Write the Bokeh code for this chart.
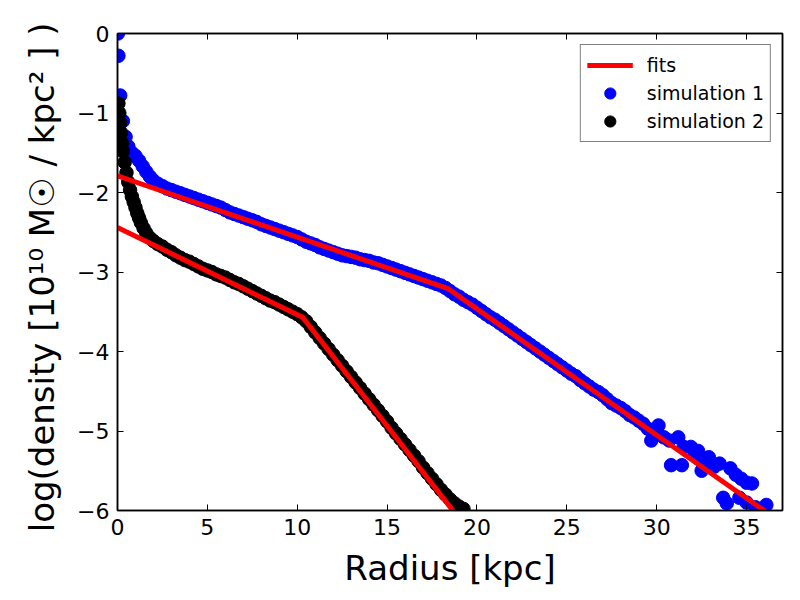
from bokeh.plotting import figure
from bokeh.models import (ColumnDataSource, FixedTicker, LinearAxis, Range1d,
                          Legend, LegendItem, CustomJSTickFormatter)
from bokeh.embed import file_html
from bokeh.resources import INLINE

# ---- surface density profiles (radius in kpc, log10 density) ----
sim1_r = [0.02, 0.05, 0.15, 0.3, 0.45, 0.6, 0.8, 1.0, 1.2, 1.4, 1.6, 1.8, 2.0,
          2.25, 2.5, 2.75, 3.0, 3.25, 3.5, 3.75, 4.0, 4.25, 4.5, 4.75, 5.0,
          5.25, 5.5, 5.75, 6.0, 6.25, 6.5, 6.75, 7.0, 7.25, 7.5, 7.75, 8.0,
          8.25, 8.5, 8.75, 9.0, 9.25, 9.5, 9.75, 10.0, 10.25, 10.5, 10.75,
          11.0, 11.25, 11.5, 11.75, 12.0, 12.25, 12.5, 12.75, 13.0, 13.25,
          13.5, 13.75, 14.0, 14.25, 14.5, 14.75, 15.0, 15.25, 15.5, 15.75,
          16.0, 16.25, 16.5, 16.75, 17.0, 17.25, 17.5, 17.75, 18.0, 18.25,
          18.5, 18.75, 19.0, 19.25, 19.5, 19.75, 20.0, 20.25, 20.5, 20.75,
          21.0, 21.25, 21.5, 21.75, 22.0, 22.25, 22.5, 22.75, 23.0, 23.25,
          23.5, 23.75, 24.0, 24.25, 24.5, 24.75, 25.0, 25.25, 25.5, 25.75,
          26.0, 26.25, 26.5, 26.75, 27.0, 27.25, 27.5, 27.75, 28.0, 28.25,
          28.5, 28.75, 29.0, 29.25, 29.5, 29.75, 30.0, 30.1, 29.7, 30.4, 30.7,
          31.2, 30.8, 31.4, 31.5, 31.9, 32.1, 32.3, 32.6, 32.9, 32.5, 33.2,
          33.5, 34.1, 34.4, 34.7, 35.0, 35.3, 33.7, 33.9, 34.6, 35.0, 35.5,
          36.1, 35.7]
sim1_logrho = [0.0, -0.28, -0.78, -1.1, -1.3, -1.42, -1.5, -1.54, -1.6, -1.67,
               -1.74, -1.8, -1.85, -1.89, -1.92, -1.95, -1.97, -1.99, -2.01,
               -2.03, -2.05, -2.07, -2.09, -2.11, -2.13, -2.15, -2.17, -2.19,
               -2.22, -2.25, -2.27, -2.29, -2.31, -2.33, -2.35, -2.37, -2.40,
               -2.42, -2.44, -2.46, -2.48, -2.50, -2.52, -2.54, -2.56, -2.59,
               -2.62, -2.64, -2.66, -2.69, -2.71, -2.73, -2.75, -2.77, -2.79,
               -2.80, -2.81, -2.82, -2.84, -2.85, -2.86, -2.88, -2.89, -2.91,
               -2.93, -2.95, -2.97, -2.99, -3.01, -3.03, -3.05, -3.07, -3.09,
               -3.11, -3.13, -3.15, -3.17, -3.20, -3.24, -3.28, -3.31, -3.35,
               -3.38, -3.41, -3.45, -3.49, -3.53, -3.57, -3.60, -3.64, -3.68,
               -3.72, -3.76, -3.80, -3.84, -3.88, -3.92, -3.96, -4.00, -4.04,
               -4.08, -4.12, -4.16, -4.20, -4.24, -4.28, -4.31, -4.36, -4.40,
               -4.44, -4.48, -4.51, -4.55, -4.60, -4.65, -4.68, -4.71, -4.75,
               -4.80, -4.83, -4.87, -4.91, -4.97, -5.01, -4.99, -4.93, -5.12,
               -5.08, -5.12, -5.08, -5.43, -5.43, -5.20, -5.20, -5.30, -5.25,
               -5.37, -5.33, -5.50, -5.45, -5.41, -5.47, -5.55, -5.60, -5.65,
               -5.66, -5.84, -5.91, -5.84, -5.90, -5.96, -5.93, -6.0]

sim2_r = [0.05, 0.1, 0.15, 0.2, 0.25, 0.3, 0.4, 0.5, 0.6, 0.7, 0.8, 0.9, 1.0,
          1.1, 1.2, 1.3, 1.45, 1.6, 1.8, 2.0, 2.25, 2.5, 2.75, 3.0, 3.25, 3.5,
          3.75, 4.0, 4.25, 4.5, 4.75, 5.0, 5.25, 5.5, 5.75, 6.0, 6.25, 6.5,
          6.75, 7.0, 7.25, 7.5, 7.75, 8.0, 8.25, 8.5, 8.75, 9.0, 9.25, 9.5,
          9.75, 10.0, 10.25, 10.5, 10.75, 11.0, 11.25, 11.5, 11.75, 12.0,
          12.25, 12.5, 12.75, 13.0, 13.25, 13.5, 13.75, 14.0, 14.25, 14.5,
          14.75, 15.0, 15.25, 15.5, 15.75, 16.0, 16.25, 16.5, 16.75, 17.0,
          17.25, 17.5, 17.75, 18.0, 18.25, 18.5, 18.75, 19.0, 19.25]
sim2_logrho = [-0.88, -1.0, -1.12, -1.25, -1.38, -1.48, -1.62, -1.75, -1.87,
               -1.97, -2.05, -2.12, -2.19, -2.26, -2.32, -2.38, -2.45, -2.51,
               -2.57, -2.61, -2.65, -2.68, -2.72, -2.75, -2.79, -2.82, -2.85,
               -2.87, -2.90, -2.93, -2.96, -2.98, -3.00, -3.03, -3.05, -3.07,
               -3.10, -3.13, -3.15, -3.18, -3.21, -3.24, -3.27, -3.30, -3.33,
               -3.36, -3.38, -3.41, -3.44, -3.47, -3.50, -3.53, -3.57, -3.62,
               -3.69, -3.76, -3.83, -3.90, -3.97, -4.04, -4.11, -4.18, -4.25,
               -4.32, -4.39, -4.46, -4.53, -4.60, -4.67, -4.74, -4.81, -4.88,
               -4.96, -5.03, -5.10, -5.17, -5.24, -5.31, -5.38, -5.46, -5.53,
               -5.60, -5.67, -5.74, -5.80, -5.86, -5.91, -5.95, -5.98]

# broken-exponential fits (inner and outer segment meeting at the break)
fit1_r = [0.0, 18.4, 36.1]
fit1_logrho = [-1.79, -3.21, -6.02]
fit2_r = [0.0, 10.3, 19.0]
fit2_logrho = [-2.44, -3.57, -6.1]

x_ticks = [0, 5, 10, 15, 20, 25, 30, 35]
y_ticks = [-6, -5, -4, -3, -2, -1, 0]

FONT = "DejaVu Sans"

p = figure(width=800, height=600, output_backend="svg", toolbar_location=None,
           x_range=Range1d(0, 37), y_range=Range1d(-6, 0),
           min_border_left=117, min_border_right=18,
           min_border_top=33, min_border_bottom=90)
p.background_fill_color = "white"
p.border_fill_color = "white"
p.grid.visible = False
p.outline_line_color = "black"
p.outline_line_width = 1.5

minus_fmt = CustomJSTickFormatter(
    code="return tick < 0 ? '\u2212' + Math.abs(tick) : String(tick);")
blank_fmt = CustomJSTickFormatter(code="return '';")

for ax in (p.xaxis[0], p.yaxis[0]):
    ax.major_label_text_font = FONT
    ax.major_label_text_font_size = "22px"
    ax.major_label_text_color = "black"
    ax.axis_label_text_font = FONT
    ax.axis_label_text_font_size = "34px"
    ax.axis_label_text_font_style = "normal"
    ax.axis_label_text_color = "black"
    ax.major_tick_in = 6
    ax.major_tick_out = 0
    ax.minor_tick_in = 0
    ax.minor_tick_out = 0
    ax.axis_line_width = 1.5
    ax.major_label_standoff = 8

p.xaxis[0].ticker = FixedTicker(ticks=x_ticks)
p.yaxis[0].ticker = FixedTicker(ticks=y_ticks)
p.yaxis[0].formatter = minus_fmt
p.xaxis[0].axis_label = "Radius [kpc]"
p.yaxis[0].axis_label = "log(density [10\u00b9\u2070  M\u2609 / kpc\u00b2 ] )"
p.xaxis[0].axis_label_standoff = 10
p.yaxis[0].axis_label_standoff = 12

# mirrored ticks on the top and right edges
top_ax = LinearAxis(ticker=FixedTicker(ticks=x_ticks), formatter=blank_fmt,
                    major_tick_in=6, major_tick_out=0, minor_tick_in=0,
                    minor_tick_out=0, axis_line_width=1.5,
                    major_label_text_font_size="1px")
right_ax = LinearAxis(ticker=FixedTicker(ticks=y_ticks), formatter=blank_fmt,
                      major_tick_in=6, major_tick_out=0, minor_tick_in=0,
                      minor_tick_out=0, axis_line_width=1.5,
                      major_label_text_font_size="1px")
p.add_layout(top_ax, "above")
p.add_layout(right_ax, "right")

src1 = ColumnDataSource(dict(r=sim1_r, y=sim1_logrho))
src2 = ColumnDataSource(dict(r=sim2_r, y=sim2_logrho))

s1 = p.scatter("r", "y", source=src1, size=13.5, fill_color="blue",
               line_color="blue", marker="circle")
s2 = p.scatter("r", "y", source=src2, size=13.5, fill_color="black",
               line_color="black", marker="circle")
f1 = p.line(fit1_r, fit1_logrho, line_color="red", line_width=5)
f2 = p.line(fit2_r, fit2_logrho, line_color="red", line_width=5)

legend = Legend(items=[LegendItem(label="fits", renderers=[f1]),
                       LegendItem(label="simulation 1", renderers=[s1]),
                       LegendItem(label="simulation 2", renderers=[s2])],
                location="top_right")
legend.label_text_font = FONT
legend.label_text_font_size = "19px"
legend.label_text_color = "black"
legend.border_line_color = "black"
legend.border_line_width = 1
legend.background_fill_color = "white"
legend.background_fill_alpha = 1
legend.padding = 6
legend.spacing = 0
legend.margin = 11
legend.glyph_width = 46
legend.glyph_height = 28
legend.label_height = 28
legend.label_standoff = 14
p.add_layout(legend)

open("out.html", "w").write(file_html(p, INLINE))
